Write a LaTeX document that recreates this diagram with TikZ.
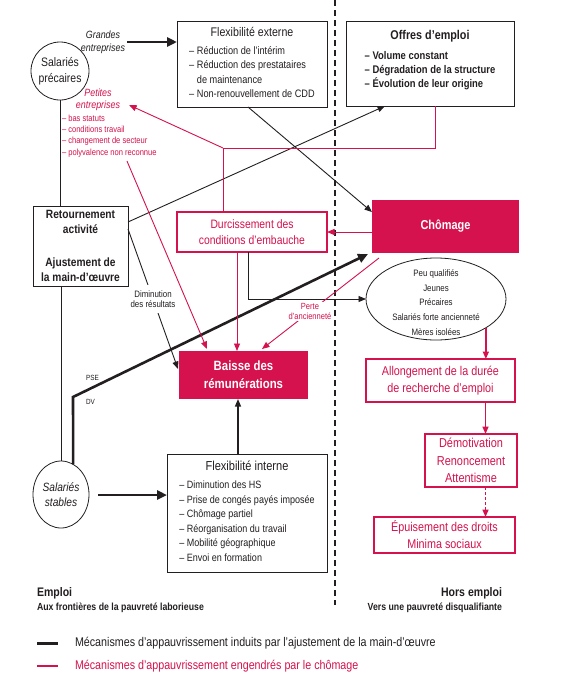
\documentclass[tikz,border=0pt]{standalone}
\usepackage{fontspec}
\setmainfont{Liberation Sans}[FakeStretch=0.85]
\usetikzlibrary{arrows.meta,shapes.geometric,calc}
\definecolor{crim}{RGB}{213,18,78}
\definecolor{ink}{RGB}{35,31,32}
\newcommand{\myfs}[2]{\fontsize{#1}{#2}\selectfont}
\begin{document}
\begin{tikzpicture}[x=1pt,y=-1pt,
  every node/.style={text=ink, inner sep=0pt, outer sep=0pt},
  thinbk/.style={draw=ink, line width=0.9pt},
  thickbk/.style={draw=ink, line width=2.6pt},
  redln/.style={draw=crim, line width=0.9pt},
  redthick/.style={draw=crim, line width=1.5pt},
  arr/.style={-{Triangle[length=7.5pt,width=6pt]}},
  bigarr/.style={-{Triangle[length=10pt,width=9pt]}},
  bkbox/.style={draw=ink, line width=0.9pt, rectangle},
  rdbox/.style={draw=crim, line width=1.5pt, rectangle, fill=white, text=crim, align=center},
  fillbox/.style={fill=crim, rectangle, text=white, align=center},
  lab/.style={align=center},
]
\path[use as bounding box, fill=white] (0,0) rectangle (563,683);

% divider
\coordinate (dtop) at (335,0);
\coordinate (dbot) at (335,605);
\draw[ink, line width=1.8pt, dash pattern=on 6pt off 4pt] (dtop) -- (dbot);

% circles and free labels
\node[circle, draw=ink, line width=0.8pt, minimum size=58pt, align=center, font=\myfs{12.3}{15.5}] (prec) at (60,71) {Salariés\\précaires};
\node[ellipse, draw=ink, line width=0.8pt, minimum width=56pt, minimum height=67pt, align=center, font=\itshape\myfs{12}{15}] (stab) at (61,494.5) {Salariés\\stables};
\node[lab, font=\itshape\myfs{10.5}{13}] (gr) at (103,42) {Grandes\\entreprises};
\node[lab, text=crim, font=\itshape\myfs{10.5}{12.5}] (pe) at (98,100) {Petites\\entreprises};
\node[align=left, text=crim, font=\myfs{8.9}{11.3}, anchor=west] (pl) at (62,136) {– bas statuts\\– conditions travail\\– changement de secteur\\– polyvalence non reconnue};
\node[font=\myfs{7.5}{9}, anchor=west] (pse) at (86,378) {PSE};
\node[font=\myfs{7.5}{9}, anchor=west] (dv) at (86,402) {DV};

% boxes
\node[bkbox, minimum width=95pt, minimum height=80pt, align=center, font=\bfseries\myfs{12}{15}] (ret) at (80.5,246) {Retournement\\activité\\[18pt]Ajustement de\\la main-d’œuvre};

\node[bkbox, minimum width=150pt, minimum height=86pt] (fe) at (252,64) {\myfs{10.8}{14.3}\begin{tabular}{@{}l@{}}\multicolumn{1}{c}{\myfs{12.5}{14.3}Flexibilité externe}\\[3.7pt]
– Réduction de l’intérim\\
– Réduction des prestataires\\
\phantom{– }de maintenance\\
– Non-renouvellement de CDD\end{tabular}};

\node[bkbox, minimum width=168pt, minimum height=85pt, font=\bfseries] (off) at (430,63.5) {\myfs{11.1}{13.8}\begin{tabular}{@{}l@{}}\multicolumn{1}{c}{\myfs{12.7}{13.8}Offres d’emploi}\\[6pt]
– Volume constant\\
– Dégradation de la structure\\
– Évolution de leur origine\\[6pt]\end{tabular}};

\node[bkbox, minimum width=160pt, minimum height=118pt] (fi) at (247,513) {\myfs{10.6}{14.6}\begin{tabular}{@{}l@{}}\multicolumn{1}{c}{\myfs{13}{14.6}Flexibilité interne}\\[3.4pt]
– Diminution des HS\\
– Prise de congés payés imposée\\
– Chômage partiel\\
– Réorganisation du travail\\
– Mobilité géographique\\
– Envoi en formation\end{tabular}};

\node[rdbox, minimum width=150pt, minimum height=40pt, font=\myfs{12.2}{15.5}] (dur) at (252,232) {Durcissement des\\conditions d’embauche};
\node[fillbox, minimum width=147pt, minimum height=53pt, font=\bfseries\myfs{12.9}{15}] (ch) at (445.5,226.5) {Chômage};
\node[fillbox, minimum width=129pt, minimum height=48pt, font=\bfseries\myfs{13.4}{18}] (bai) at (243.5,375) {Baisse des\\rémunérations};

\node[ellipse, draw=ink, line width=0.8pt, minimum width=140pt, minimum height=82pt] (ell) at (436,299) {};
\node[align=center, font=\myfs{9.3}{14.7}] (elltxt) at (436,302.5) {Peu qualifiés\\Jeunes\\Précaires\\Salariés forte ancienneté\\Mères isolées};

\node[rdbox, minimum width=149pt, minimum height=43pt, font=\myfs{12.7}{17.5}] (all) at (440.5,380.5) {Allongement de la durée\\de recherche d’emploi};
\node[rdbox, minimum width=92pt, minimum height=53pt, font=\myfs{12.9}{17.5}] (dem) at (471,460.5) {Démotivation\\Renoncement\\Attentisme};
\node[rdbox, minimum width=141pt, minimum height=36pt, font=\myfs{12.7}{17}] (epu) at (444.5,535) {Épuisement des droits\\Minima sociaux};

% black connectors
\draw[thinbk] (prec.south) -- (prec.south |- ret.north);
\draw[thinbk] (ret.south -| stab.north) -- (stab.north);
\coordinate (dvk) at (73,397);
\draw[thickbk,bigarr] (stab.68) -- (dvk) -- ($(ch.south west)+(-4,1)$);
\draw[thickbk,bigarr,shorten <=2pt] (gr.east) -- (gr.east -| fe.west);
\draw[thickbk,bigarr] ($(stab.east)+(9,0.5)$) coordinate (s1) -- (s1 -| fi.west);
\draw[thinbk,arr] ($(fe.south)+(-4,0)$) -- ($(ch.north west)+(0,12)$);
\draw[thinbk,arr] ($(ret.north east)+(0,16)$) -- ($(off.south west)+(39,0)$);
\draw[thinbk,arr] ($(ret.north east)+(0,23)$) -- node[fill=white, inner ysep=5pt, inner xsep=1pt, align=center, font=\myfs{9.3}{10.5}] (dim) {Diminution\\des résultats} ($(bai.north west)+(-1,18)$);
\draw[thinbk,arr] ($(dur.south)+(-4,0)$) |- (ell.west);
\draw[ink, line width=1.2pt, arr] ($(fi.north)+(-9,0)$) coordinate (f1) -- (f1 |- bai.south);

% red connectors
\coordinate (rj) at (223,148);
\draw[redln] ($(off.south west)+(89,0)$) |- (rj) -- (rj |- dur.north);
\draw[redln,arr] (rj) -- ($(pe.east)+(9,5)$);
\draw[redln,arr] (dur.east -| ch.west) -- (dur.east);
\draw[redln,arr] ($(dur.south)+(-15,0)$) coordinate (d1) -- (d1 |- bai.north);
\draw[redln,arr] ($(ch.south west)+(7,5)$) -- node[pos=0.59, fill=white, inner sep=1.5pt, align=center, text=crim, font=\myfs{8.9}{10}] (perte) {Perte\\d’ancienneté} ($(bai.north east)+(-46,-2)$);
\draw[redln,arr] ($(pl.south west)+(65,4)$) -- ($(bai.north west)+(28,-2)$);
\draw[redthick,arr] (ell.-30) coordinate (e1) -- (e1 |- all.north);
\draw[redthick,arr] ($(all.south)+(45,0)$) coordinate (a2) -- (a2 |- dem.north);
\draw[redthick,arr,dash pattern=on 3pt off 2pt] ($(dem.south)+(14.5,0)$) coordinate (a3) -- (a3 |- epu.north);

% footer
\node[anchor=base west, font=\bfseries\myfs{12.4}{14}] (emp) at (37,596) {Emploi};
\node[anchor=base west, font=\bfseries\myfs{10.3}{12}] (empsub) at (37,610) {Aux frontières de la pauvreté laborieuse};
\node[anchor=base east, font=\bfseries\myfs{12.4}{14}] (hors) at (502,596) {Hors emploi};
\node[anchor=base east, font=\bfseries\myfs{10.3}{12}] (horssub) at (502,610) {Vers une pauvreté disqualifiante};

% legend
\coordinate (l1a) at (37,643); \coordinate (l1b) at (58,643);
\coordinate (l2a) at (37,666); \coordinate (l2b) at (58,666);
\draw[ink, line width=3pt] (l1a) -- (l1b);
\draw[crim, line width=2pt] (l2a) -- (l2b);
\node[anchor=west, font=\myfs{12.6}{14}] (leg1) at (75,643) {Mécanismes d’appauvrissement induits par l’ajustement de la main-d’œuvre};
\node[anchor=west, text=crim, font=\myfs{12.6}{14}] (leg2) at (75,666) {Mécanismes d’appauvrissement engendrés par le chômage};
\end{tikzpicture}
\end{document}
